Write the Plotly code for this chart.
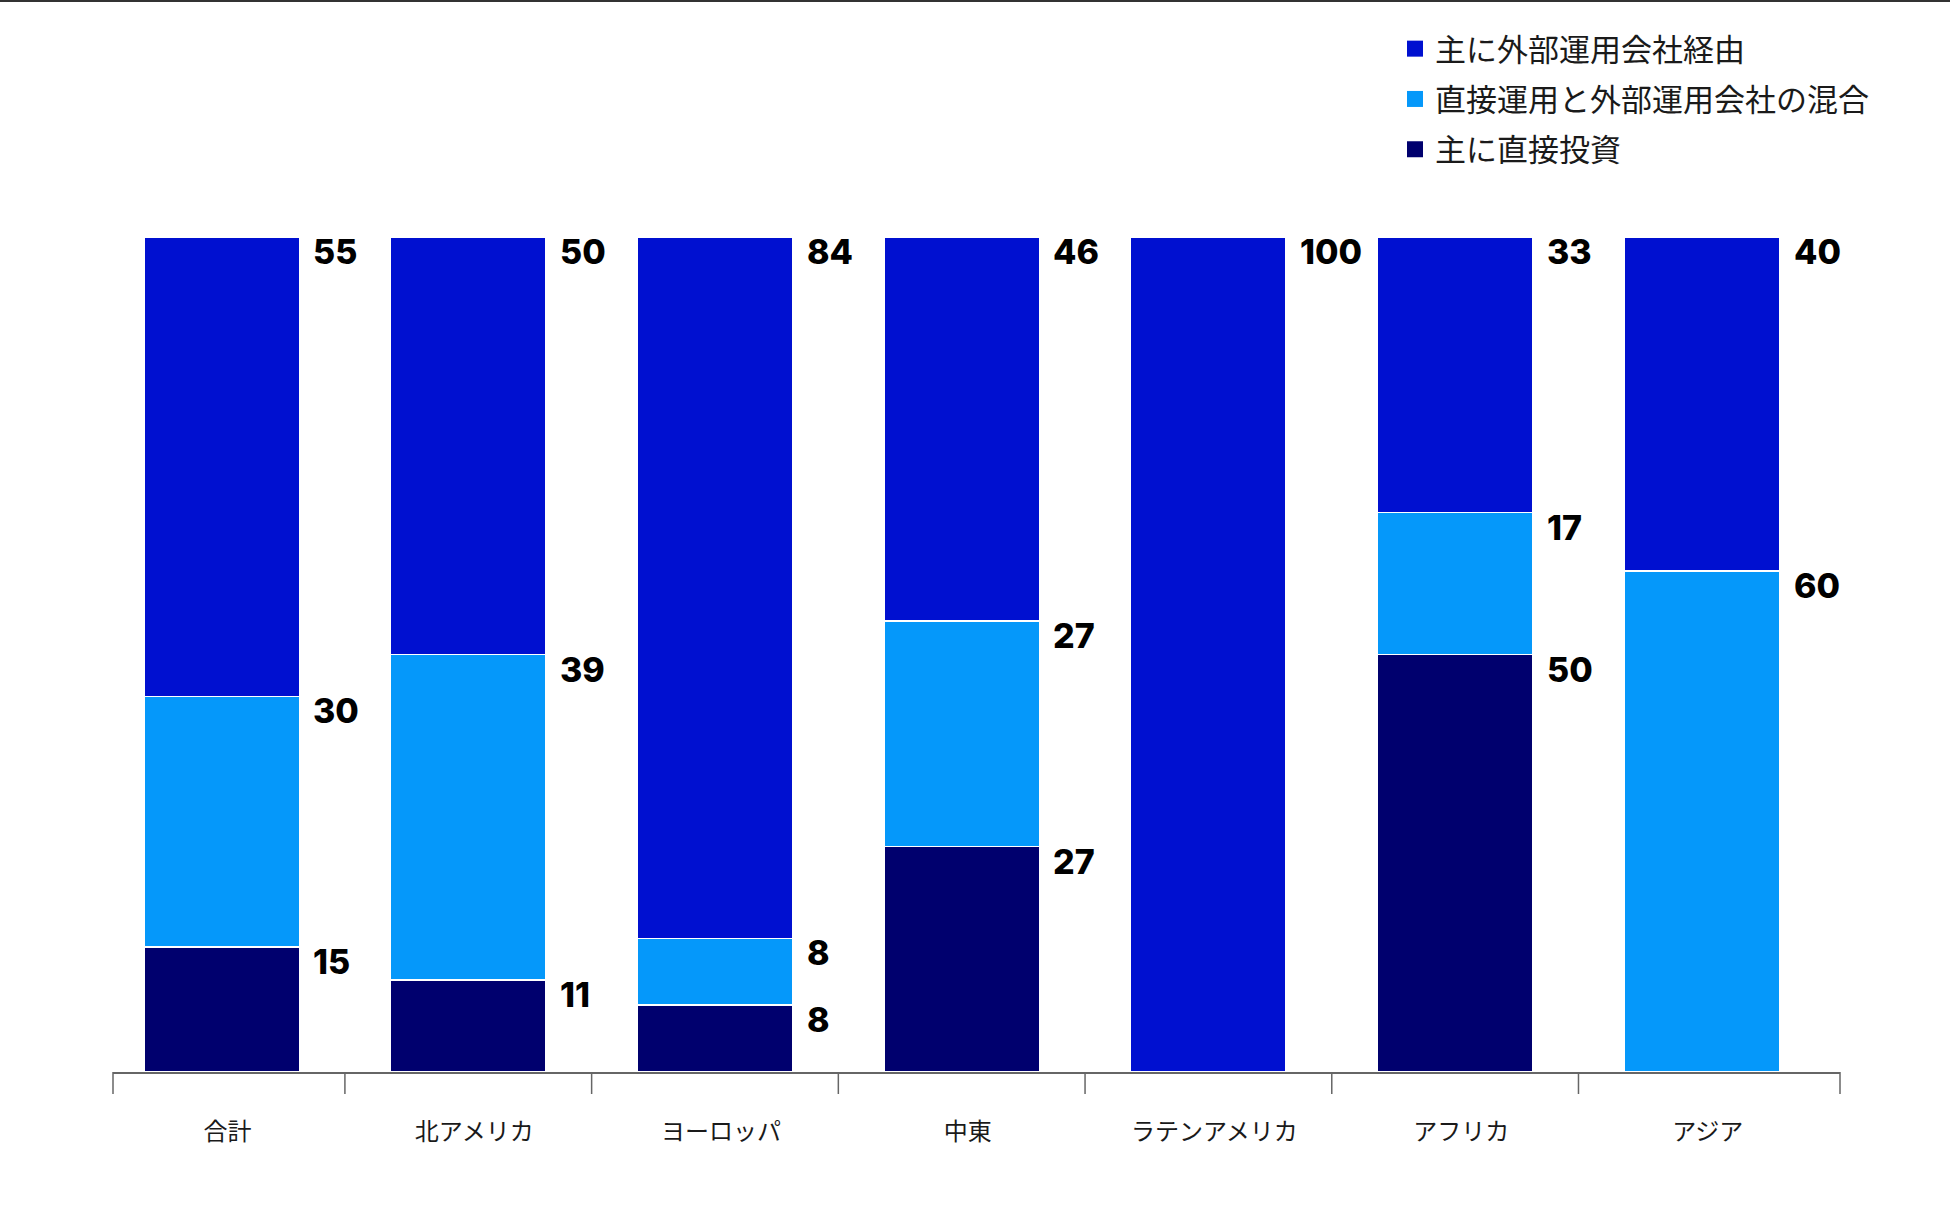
import plotly.graph_objects as go

categories = ["合計", "北アメリカ", "ヨーロッパ", "中東", "ラテンアメリカ", "アフリカ", "アジア"]
direct = [15, 11, 8, 27, 0, 50, 0]          # 主に直接投資
mixed = [30, 39, 8, 27, 0, 17, 60]          # 直接運用と外部運用会社の混合
external = [55, 50, 84, 46, 100, 33, 40]    # 主に外部運用会社経由

series_names = ["主に外部運用会社経由", "直接運用と外部運用会社の混合", "主に直接投資"]
series_colors = ["#0010D0", "#0598FA", "#00006E"]

W, H = 1950, 1205
L, R, T, B = 113, 110, 237, 133
plot_w = W - L - R
plot_h = H - T - B
X_RANGE = [-0.44, len(categories) - 0.44]
BARGAP = 0.37
AXIS_COLOR = "#666666"
TICK_LEN = 22

fig = go.Figure()

stack = [(direct, series_colors[2], series_names[2]),
         (mixed, series_colors[1], series_names[1]),
         (external, series_colors[0], series_names[0])]

for vals, col, name in stack:
    fig.add_trace(go.Bar(
        x=categories, y=vals, name=name, marker_color=col,
        marker_line_color="white", marker_line_width=1.5,
        showlegend=False, hoverinfo="skip"))

# legend entries
for i, (name, col) in enumerate(zip(series_names, series_colors)):
    fig.add_trace(go.Scatter(
        x=[None], y=[None], mode="markers", name=name,
        marker=dict(symbol="square", size=16, color=col),
        legendgroup=f"g{i}", showlegend=True))

# value labels at the top of each segment
bar_half_px = plot_w / (X_RANGE[1] - X_RANGE[0]) * (1 - BARGAP) / 2
for i, cat in enumerate(categories):
    base = 0
    for vals in (direct, mixed, external):
        v = vals[i]
        if v > 0:
            top = base + v
            fig.add_annotation(
                x=cat, y=top, text=str(v), showarrow=False,
                xanchor="left", yanchor="top",
                xshift=bar_half_px + 12, yshift=8,
                font=dict(family="Inter", size=34, color="#000000", weight=800))
        base += v

# thin top rule across the page
fig.add_shape(type="line", xref="paper", yref="paper",
              x0=-L / plot_w, x1=(W - L) / plot_w,
              y0=(plot_h + T - 1) / plot_h, y1=(plot_h + T - 1) / plot_h,
              line=dict(color="#333333", width=2))

# tick marks: both ends of the axis line and the boundaries between categories
for xe in (0, 1):
    fig.add_shape(type="line", xref="paper", yref="paper",
                  ysizemode="pixel", yanchor=0,
                  x0=xe, x1=xe, y0=0, y1=-TICK_LEN,
                  line=dict(color=AXIS_COLOR, width=1.5))
for i in range(len(categories) - 1):
    fig.add_shape(type="line", xref="x", yref="paper",
                  ysizemode="pixel", yanchor=0,
                  x0=i + 0.5, x1=i + 0.5, y0=0, y1=-TICK_LEN,
                  line=dict(color=AXIS_COLOR, width=1.5))

fig.update_layout(
    width=W, height=H,
    margin=dict(l=L, r=R, t=T, b=B, autoexpand=False),
    barmode="stack", bargap=BARGAP,
    plot_bgcolor="white", paper_bgcolor="white",
    font=dict(family="Noto Sans CJK JP", color="#1a1a1a"),
    showlegend=True,
    legend=dict(
        x=(1395 - L) / plot_w, xanchor="left",
        y=(plot_h + T - 22) / plot_h, yanchor="top",
        traceorder="grouped", tracegroupgap=7,
        font=dict(family="Noto Sans CJK JP", size=31, color="#1a1a1a"),
        itemsizing="trace", bgcolor="rgba(0,0,0,0)"),
    xaxis=dict(
        type="category", showline=True, linecolor=AXIS_COLOR, linewidth=1.5,
        ticks="", ticklabelstandoff=37, ticklabelshift=6,
        showgrid=False, zeroline=False,
        tickfont=dict(family="Noto Sans CJK JP", size=24, color="#1a1a1a"),
        range=X_RANGE),
    yaxis=dict(range=[0, 100], visible=False, showgrid=False, zeroline=False),
)

fig.write_html("out.html", config={"displayModeBar": False},
               post_script="document.body.style.margin='0';")
